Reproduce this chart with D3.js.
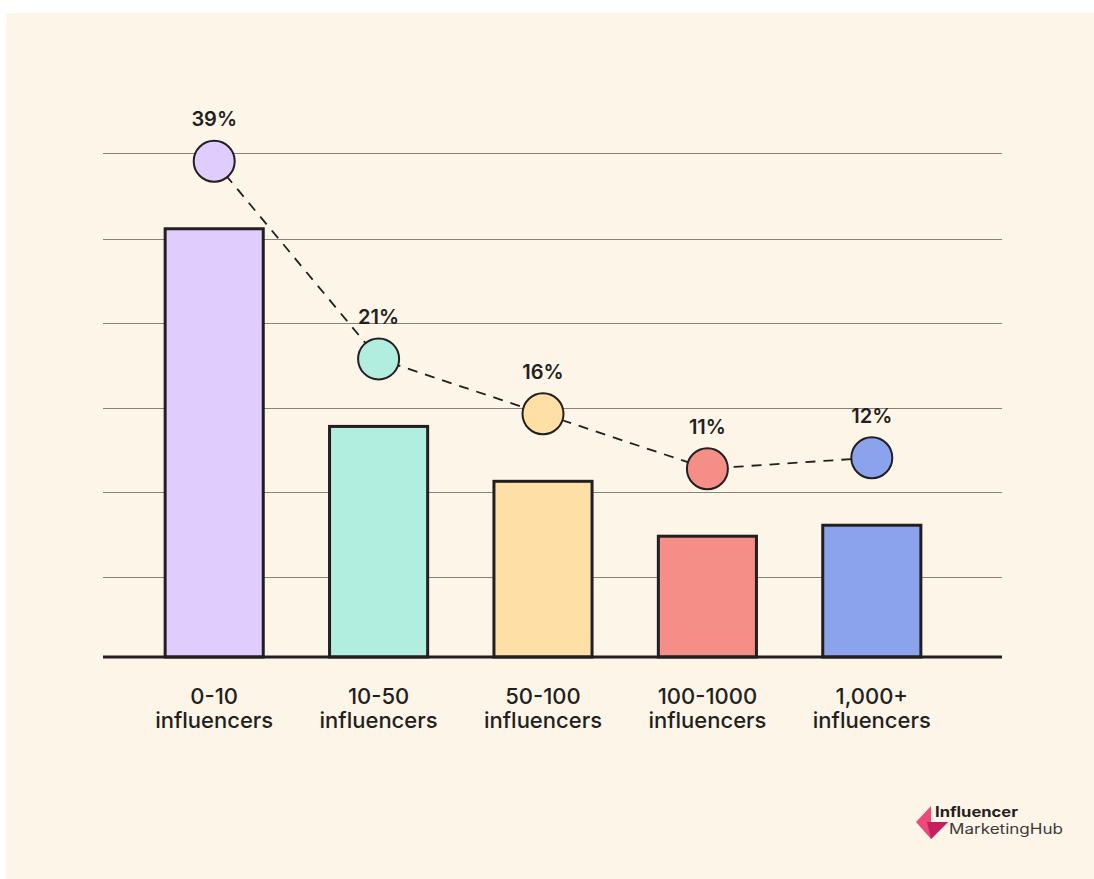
<!DOCTYPE html>
<html>
<head>
<meta charset="utf-8">
<script src="https://cdn.jsdelivr.net/npm/d3@7"></script>
<style>
  body { margin: 0; background: #fff; }
  svg { display: block; font-family: Inter, "Noto Sans", sans-serif; }
</style>
</head>
<body>
<svg id="chart" width="1094" height="879"></svg>
<script>
const categories = ["0-10|influencers", "10-50|influencers", "50-100|influencers", "100-1000|influencers", "1,000+|influencers"];
const values = [39, 21, 16, 11, 12];
const colors = ["#e1ccfe", "#b1eedf", "#fedfa6", "#f48e87", "#8ba2ec"];
const gridValues = [7.3, 15.0, 22.7, 30.4, 38.1, 45.9];

const svg = d3.select("#chart");

// panel
svg.append("rect")
  .attr("x", 6).attr("y", 13)
  .attr("width", 1088).attr("height", 866)
  .attr("fill", "#fef5e9");

const x = d3.scaleBand()
  .domain(categories)
  .range([132, 954])
  .paddingInner(0.385)
  .paddingOuter(0.1925);

const y = d3.scaleLinear().domain([0, 45.9]).range([657, 153]);

const gridLeft = 103, gridRight = 1002;

// gridlines
svg.append("g")
  .selectAll("line")
  .data(gridValues)
  .join("line")
  .attr("x1", gridLeft)
  .attr("x2", gridRight)
  .attr("y1", (d) => Math.round(y(d)) + 0.5)
  .attr("y2", (d) => Math.round(y(d)) + 0.5)
  .attr("stroke", "#858280")
  .attr("stroke-width", 1.2);

const data = categories.map((c, i) => ({ cat: c, value: values[i], color: colors[i] }));

// bars
svg.append("g")
  .selectAll("rect")
  .data(data)
  .join("rect")
  .attr("x", (d) => x(d.cat) + 1.5)
  .attr("y", (d) => y(d.value))
  .attr("width", x.bandwidth() - 3)
  .attr("height", (d) => y(0) - y(d.value))
  .attr("fill", (d) => d.color)
  .attr("stroke", "#231f20")
  .attr("stroke-width", 3);

// baseline
svg.append("line")
  .attr("x1", gridLeft).attr("x2", gridRight)
  .attr("y1", y(0)).attr("y2", y(0))
  .attr("stroke", "#231f20")
  .attr("stroke-width", 3);

// dashed trend above the bars
const lift = 67.5;
const cx = (d) => x(d.cat) + x.bandwidth() / 2;
const cy = (d) => y(d.value) - lift;

svg.append("path")
  .datum(data)
  .attr("d", d3.line().x(cx).y(cy))
  .attr("fill", "none")
  .attr("stroke", "#231f20")
  .attr("stroke-width", 1.8)
  .attr("stroke-dasharray", "10 8");

svg.append("g")
  .selectAll("circle")
  .data(data)
  .join("circle")
  .attr("cx", cx)
  .attr("cy", cy)
  .attr("r", 20.5)
  .attr("fill", (d) => d.color)
  .attr("stroke", "#231f20")
  .attr("stroke-width", 2);

svg.append("g")
  .selectAll("text")
  .data(data)
  .join("text")
  .attr("x", cx)
  .attr("y", (d) => cy(d) - 35)
  .attr("text-anchor", "middle")
  .attr("font-size", 20)
  .attr("font-weight", 600)
  .attr("fill", "#231f20")
  .text((d) => d.value + "%");

// category labels
const labels = svg.append("g")
  .selectAll("text")
  .data(data)
  .join("text")
  .attr("text-anchor", "middle")
  .attr("font-size", 22)
  .attr("font-weight", 500)
  .attr("fill", "#231f20");

labels.selectAll("tspan")
  .data((d) => d.cat.split("|").map((t) => ({ t, x: cx(d) })))
  .join("tspan")
  .attr("x", (d) => d.x)
  .attr("y", (d, i) => 704 + i * 24)
  .text((d) => d.t);

// logo
const logo = svg.append("g");
logo.append("polygon")
  .attr("points", "916,822 931,806 931,822 948,822 931,839")
  .attr("fill", "#ec4a7b");
logo.append("polygon")
  .attr("points", "927,822 948,822 931,839")
  .attr("fill", "#c51f5d");
logo.append("text")
  .attr("x", 935).attr("y", 817)
  .attr("font-size", 14)
  .attr("font-weight", 700)
  .attr("fill", "#231f20")
  .attr("textLength", 83)
  .attr("lengthAdjust", "spacingAndGlyphs")
  .text("Influencer");
logo.append("text")
  .attr("x", 949).attr("y", 834)
  .attr("font-size", 14)
  .attr("font-weight", 400)
  .attr("fill", "#3a3a3a")
  .attr("textLength", 114)
  .attr("lengthAdjust", "spacingAndGlyphs")
  .text("MarketingHub");
</script>
</body>
</html>
